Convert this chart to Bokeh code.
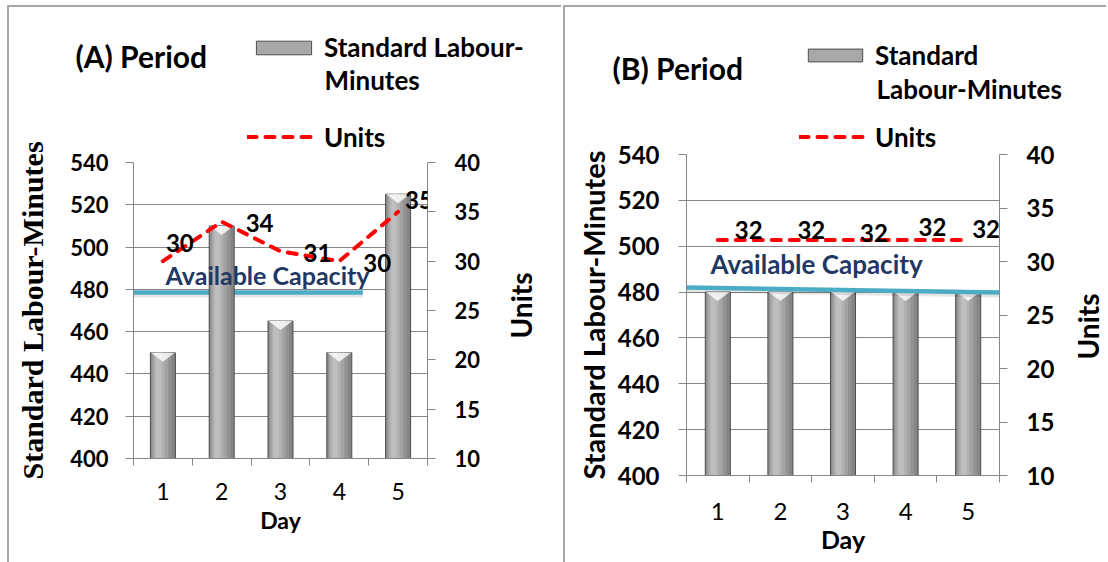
import math
from bokeh.plotting import figure
from bokeh.models import Range1d, LinearAxis, FixedTicker, Legend, LegendItem, Label
from bokeh.embed import file_html
from bokeh.resources import INLINE

# ---------------- data ----------------
days = [1, 2, 3, 4, 5]
day_names = ["1", "2", "3", "4", "5"]
minutes_a = [450, 510, 465, 450, 525]
units_a = [30, 34, 31, 30, 35]
minutes_b = [480, 480, 480, 480, 480]
units_b = [32, 32, 32, 32, 32]
capacity_a_x = [0.5, 4.4]
capacity_a_y = [478.5, 478.5]
capacity_b_x = [0.5, 5.5]
capacity_b_y = [482.0, 479.8]
minute_ticks = [400, 420, 440, 460, 480, 500, 520, 540]
unit_ticks = [10, 15, 20, 25, 30, 35, 40]
titles = ["(A) Period", "(B) Period"]
bar_name = "Standard Labour-Minutes"
line_name = "Units"
cap_name = "Available Capacity"
day_title = "Day"

# ---------------- styles ----------------
FONT = "Lato"
GRAY = "#868686"
RED = "#FF0000"
CYAN = "#4BACC6"
NAVY = "#1F3864"
BORDER = "2px solid #a6a6a6"
NAN = float("nan")
STRIPES = [(0.00, 1.00, "#858585"), (0.04, 0.84, "#939393"), (0.09, 0.70, "#a3a3a3"),
           (0.15, 0.56, "#b1b1b1"), (0.22, 0.44, "#bebebe")]
CHART_TOP = 100

CFG = [
    dict(title=titles[0], minutes=minutes_a, units=units_a, cap_x=capacity_a_x, cap_y=capacity_a_y,
         host_left=7, hw=554, hh=153, origin=(9, 7),
         title_pos=(75, 55.5), title_fs="30px",
         leg_fs="26px", leg1_glyph=(249, 47.5, 69, 17), leg2_glyph=(247, 137, 71), row_h=31,
         leg_split=("Standard Labour-", "Minutes"), second_pos=(324, 79.5),
         cw=554, ch=562 - CHART_TOP, mb=(124, 136, 62, 104), bar_w=0.425,
         cap_behind=True, tick_fs="22px", xtick_fs="23px", axis_fs="23px",
         ylab_font="Liberation Serif", ylab_fs="30px", ylab_standoff=18,
         units_box=(500, 255, 40, 100), cap_off=(32, 18), cap_fs="25px",
         lab_dx=[3, 24, 23, 24, 7], lab_dy=[18, -1, -2, -2, 12], lab_fs="24px",
         xstand=17, xlab_stand=3, ystand=17, rstand=19),
    dict(title=titles[1], minutes=minutes_b, units=units_b, cap_x=capacity_b_x, cap_y=capacity_b_y,
         host_left=563, hw=543, hh=153, origin=(565, 7),
         title_pos=(612, 67), title_fs="30px",
         leg_fs="26px", leg1_glyph=(801, 55, 68, 16), leg2_glyph=(799, 137, 70), row_h=31,
         leg_split=("Standard", "Labour-Minutes"), second_pos=(876, 88),
         cw=543, ch=562 - CHART_TOP, mb=(121, 109, 54, 87), bar_w=0.40,
         cap_behind=False, tick_fs="24px", xtick_fs="24px", axis_fs="25px",
         ylab_font=FONT, ylab_fs="29px", ylab_standoff=4,
         units_box=(1067, 276, 40, 100), cap_off=(24, 23), cap_fs="26px",
         lab_dx=[17, 17, 17, 13, 4], lab_dy=[10, 10, 7, 13, 11], lab_fs="24px",
         xstand=20, xlab_stand=1, ystand=19, rstand=19),
]


def txt(**kw):
    base = dict(text_font=FONT, text_font_style="bold", text_color="black",
                text_align="left", text_baseline="middle")
    base.update(kw)
    return Label(**base)


def blank(W, H, styles):
    p = figure(width=W, height=H, x_range=Range1d(0, W), y_range=Range1d(0, H), title=None,
               output_backend="svg", toolbar_location=None,
               x_axis_location=None, y_axis_location=None,
               min_border_left=0, min_border_right=0, min_border_top=0, min_border_bottom=0,
               styles=styles)
    p.outline_line_color = None
    p.grid.visible = False
    return p


def header(c):
    W, H = c["hw"], c["hh"]
    ox, oy = c["origin"]
    p = blank(W, H, {"position": "absolute", "left": "%dpx" % c["host_left"], "top": "5px",
                     "border-left": BORDER, "border-top": BORDER})
    p.background_fill_color = "white"
    p.border_fill_color = "white"

    def X(px):
        return px - ox

    def Y(py):
        return oy + H - py

    tx, ty = c["title_pos"]
    p.add_layout(txt(x=X(tx), y=Y(ty), text=c["title"], text_font_size=c["title_fs"]))

    rb = p.vbar(x=[NAN], top=[NAN], width=1, fill_color="#a8a8a8", line_color="#4d4d4d", line_width=1)
    rl = p.line(x=[NAN], y=[NAN], line_color=RED, line_width=4, line_dash="9 9", line_cap="round")

    gx, gcy, gw, gh = c["leg1_glyph"]
    rh = c["row_h"]
    l1 = Legend(items=[LegendItem(label=c["leg_split"][0], renderers=[rb])],
                location=(X(gx), Y(gcy + rh / 2.0)), glyph_width=gw, glyph_height=gh)
    gx2, gy2, gw2 = c["leg2_glyph"]
    l2 = Legend(items=[LegendItem(label=line_name, renderers=[rl])],
                location=(X(gx2), Y(gy2 + rh / 2.0)), glyph_width=gw2, glyph_height=rh)
    for lg in (l1, l2):
        lg.padding = 0
        lg.margin = 0
        lg.spacing = 0
        lg.border_line_color = None
        lg.background_fill_alpha = 0
        lg.label_height = gh
        lg.label_standoff = 6
        lg.label_text_font = FONT
        lg.label_text_font_size = c["leg_fs"]
        lg.label_text_font_style = "bold"
        lg.label_text_color = "black"
        p.add_layout(lg)

    sx, sy = c["second_pos"]
    p.add_layout(txt(x=X(sx), y=Y(sy), text=c["leg_split"][1], text_font_size=c["leg_fs"]))
    return p


def units_title(c):
    bx, by, bw, bh = c["units_box"]
    p = blank(bw, bh, {"position": "absolute", "left": "%dpx" % bx, "top": "%dpx" % by})
    p.background_fill_alpha = 0
    p.border_fill_alpha = 0
    p.add_layout(txt(x=bw / 2.0, y=bh / 2.0, text=line_name, angle=math.pi / 2,
                     text_align="center", text_font_size="28px"))
    return p


def chart(c):
    ml, mr, mt, mbot = c["mb"]
    p = figure(width=c["cw"], height=c["ch"], x_range=Range1d(0.5, 5.5), y_range=Range1d(400, 540),
               title=None, output_backend="svg", toolbar_location=None,
               min_border_left=ml, min_border_right=mr, min_border_top=mt, min_border_bottom=mbot,
               styles={"position": "absolute", "left": "%dpx" % c["host_left"],
                       "top": "%dpx" % CHART_TOP, "border-left": BORDER})
    p.outline_line_color = None
    p.background_fill_color = "white"
    p.border_fill_alpha = 0
    p.extra_y_ranges = {"units": Range1d(10, 40)}
    frame_h = c["ch"] - mt - mbot
    ppu = frame_h / 140.0

    # grid
    p.xgrid.visible = False
    p.ygrid.ticker = FixedTicker(ticks=minute_ticks)
    p.ygrid.grid_line_color = GRAY
    p.ygrid.grid_line_width = 1

    # x axis (labels at day centres, small ticks at category boundaries)
    bounds = [d - 0.5 for d in days] + [days[-1] + 0.5]
    xa = p.xaxis[0]
    xa.ticker = FixedTicker(ticks=days, minor_ticks=bounds)
    xa.major_label_overrides = dict(zip(days, day_names))
    xa.major_tick_out = 0
    xa.major_tick_in = 0
    xa.minor_tick_out = 7
    xa.minor_tick_in = 0
    xa.minor_tick_line_color = GRAY
    xa.axis_line_color = GRAY
    xa.major_label_text_font = FONT
    xa.major_label_text_font_size = c["xtick_fs"]
    xa.major_label_text_font_style = "normal"
    xa.major_label_text_color = "black"
    xa.major_label_standoff = c["xstand"]
    xa.axis_label = day_title
    xa.axis_label_text_font = FONT
    xa.axis_label_text_font_size = c["axis_fs"]
    xa.axis_label_text_font_style = "bold"
    xa.axis_label_text_color = "black"
    xa.axis_label_standoff = c["xlab_stand"]

    # left y axis
    ya = p.yaxis[0]
    ya.ticker = FixedTicker(ticks=minute_ticks)
    ya.major_tick_out = 8
    ya.major_tick_in = 0
    ya.minor_tick_out = 0
    ya.minor_tick_in = 0
    ya.major_tick_line_color = GRAY
    ya.axis_line_color = GRAY
    ya.major_label_text_font = FONT
    ya.major_label_text_font_size = c["tick_fs"]
    ya.major_label_text_font_style = "bold"
    ya.major_label_text_color = "black"
    ya.major_label_standoff = c["ystand"]
    ya.axis_label = bar_name
    ya.axis_label_text_font = c["ylab_font"]
    ya.axis_label_text_font_size = c["ylab_fs"]
    ya.axis_label_text_font_style = "bold"
    ya.axis_label_text_color = "black"
    ya.axis_label_standoff = c["ylab_standoff"]

    # right y axis
    ra = LinearAxis(y_range_name="units", ticker=FixedTicker(ticks=unit_ticks))
    ra.major_tick_out = 8
    ra.major_tick_in = 0
    ra.minor_tick_out = 0
    ra.minor_tick_in = 0
    ra.major_tick_line_color = GRAY
    ra.axis_line_color = GRAY
    ra.major_label_text_font = FONT
    ra.major_label_text_font_size = c["tick_fs"]
    ra.major_label_text_font_style = "bold"
    ra.major_label_text_color = "black"
    ra.major_label_standoff = c["rstand"]
    p.add_layout(ra, "right")

    def cap_line():
        p.line(c["cap_x"], [v - 2.5 / ppu for v in c["cap_y"]], line_color="#000000",
               line_alpha=0.10, line_width=5)
        p.line(c["cap_x"], c["cap_y"], line_color=CYAN, line_width=4.5)

    if c["cap_behind"]:
        cap_line()

    # bars drawn as shaded stripes
    W = c["bar_w"]
    for i, (a, b, col) in enumerate(STRIPES):
        xs = [d + ((a + b) / 2 - 0.5) * W for d in days]
        p.vbar(x=xs, top=c["minutes"], bottom=0, width=(b - a) * W, fill_color=col,
               line_color="#4d4d4d" if i == 0 else None, line_width=1)
    bev = 9.0 / ppu
    p.patches([[d - W / 2 + 0.01, d + W / 2 - 0.01, d] for d in days],
              [[t, t, t - bev] for t in c["minutes"]],
              fill_color="white", fill_alpha=0.8, line_color=None)

    if not c["cap_behind"]:
        cap_line()

    # units line
    p.line(days, c["units"], y_range_name="units", line_color=RED, line_width=4,
           line_dash="9 9", line_cap="round")

    # data labels
    for d, u, dx, dy in zip(days, c["units"], c["lab_dx"], c["lab_dy"]):
        p.add_layout(txt(x=d, y=u, y_range_name="units", text=str(u), x_offset=dx, y_offset=dy,
                         text_font_size=c["lab_fs"]))

    # capacity text
    p.add_layout(txt(x=c["cap_x"][0], y=c["cap_y"][0], x_offset=c["cap_off"][0],
                     y_offset=c["cap_off"][1], text=cap_name, text_font_size=c["cap_fs"],
                     text_color=NAVY))
    return p


roots = []
for c in CFG:
    roots.append(header(c))
    roots.append(chart(c))
    roots.append(units_title(c))
open("out.html", "w").write(file_html(roots, INLINE))
